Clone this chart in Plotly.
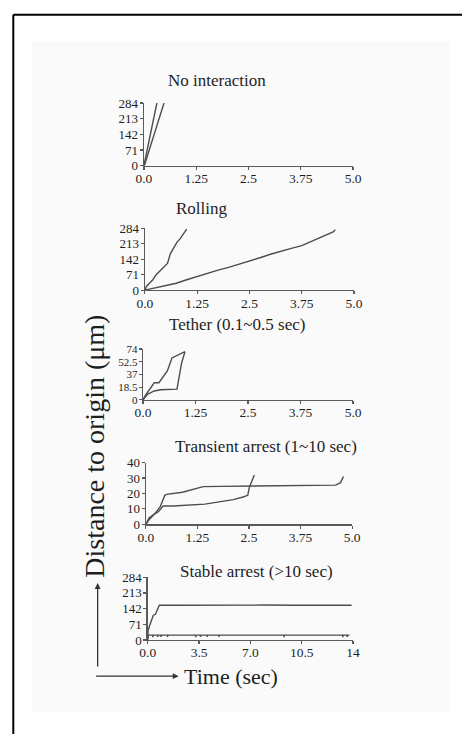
import plotly.graph_objects as go

W, H = 471, 742

# ---------------- data ----------------
titles = ["No interaction", "Rolling", "Tether (0.1~0.5 sec)",
          "Transient arrest (1~10 sec)", "Stable arrest (>10 sec)"]

# No interaction
ni_t1 = [0.0, 0.31]
ni_d1 = [0, 284]
ni_t2 = [0.01, 0.48]
ni_d2 = [0, 284]

# Rolling
ro_t1 = [0, 0.04, 0.115, 0.19, 0.27, 0.35, 0.42, 0.48, 0.54, 0.61, 0.69, 0.77, 0.84, 0.92, 1.0]
ro_d1 = [0, 18, 33, 48, 71, 86, 101, 108, 123, 168, 198, 221, 236, 259, 281]
ro_t2 = [0, 0.25, 0.5, 0.75, 1.0, 1.25, 1.5, 1.75, 2.0, 2.25, 2.5, 2.75, 3.0,
         3.25, 3.5, 3.75, 4.0, 4.25, 4.5, 4.55]
ro_d2 = [0, 10, 20, 32, 48, 63, 80, 92, 105, 119, 134, 149, 165, 180, 192,
         205, 225, 245, 268, 278]

# Tether
te_t1 = [0, 0.077, 0.19, 0.27, 0.38, 0.46, 0.58, 0.69, 0.84, 1.0]
te_d1 = [0, 8.5, 18, 25, 25, 32, 42, 61, 65.5, 70]
te_t2 = [0, 0.115, 0.27, 0.42, 0.81, 0.84, 0.92, 1.0]
te_d2 = [0, 8.5, 13, 14.7, 15.6, 25, 53.6, 70]

# Transient arrest
tr_t1 = [0, 0.077, 0.23, 0.35, 0.46, 0.5, 0.89, 1.04, 1.2, 1.39, 1.82, 2.59,
         3.36, 4.06, 4.6, 4.72, 4.79]
tr_d1 = [0, 3, 7.3, 11.5, 18.8, 19.4, 20.8, 21.9, 22.9, 24.4, 24.6, 24.8,
         25.0, 25.4, 25.4, 27, 31]
tr_t2 = [0, 0.077, 0.19, 0.31, 0.42, 0.66, 1.43, 1.82, 2.12, 2.36, 2.47, 2.51,
         2.59, 2.63]
tr_d2 = [0, 4.2, 6.3, 8.3, 11.9, 11.9, 13.1, 14.6, 16, 17.7, 18.8, 24, 30.2, 31.9]

# Stable arrest
sa_t1 = [0, 0.02, 0.1, 0.23, 0.38, 0.52, 0.65, 0.79, 2.0, 4.0, 6.0, 8.0, 10.0,
         12.0, 13.9]
sa_d1 = [0, 41, 60, 86, 112, 116, 138, 157, 157, 158, 157, 158, 157, 157, 157]
sa_t2 = [0, 0.05, 0.32, 0.34, 0.36, 0.66, 0.68, 0.70, 0.88, 0.90, 0.92, 1.33,
         1.35, 1.37, 3.25, 3.27, 3.29, 3.58, 3.60, 3.62, 4.04, 4.06, 4.08,
         4.83, 4.85, 4.87, 9.28, 9.30, 9.32, 13.28, 13.30, 13.32, 13.58,
         13.60, 13.62, 13.75]
sa_d2 = [4, 22, 22, 13, 22, 22, 14, 22, 22, 14, 22, 22, 14, 22, 22, 13, 22,
         22, 14, 22, 22, 14, 22, 22, 14, 22, 22, 13, 22, 22, 13, 22, 22, 14,
         22, 22]

# ticks
xt5_vals = [0, 1.25, 2.5, 3.75, 5.0]
xt5_text = ["0.0", "1.25", "2.5", "3.75", "5.0"]
xt14_vals = [0, 3.5, 7.0, 10.5, 14]
xt14_text = ["0.0", "3.5", "7.0", "10.5", "14"]
yt284_vals = [0, 71, 142, 213, 284]
yt284_text = ["0", "71", "142", "213", "284"]
yt74_vals = [0, 18.5, 37, 55.5, 74]
yt74_text = ["0", "18.5", "37", "52.5", "74"]
yt40_vals = [0, 10, 20, 30, 40]
yt40_text = ["0", "10", "20", "30", "40"]

series = [
    [(ni_t1, ni_d1), (ni_t2, ni_d2)],
    [(ro_t1, ro_d1), (ro_t2, ro_d2)],
    [(te_t1, te_d1), (te_t2, te_d2)],
    [(tr_t1, tr_d1), (tr_t2, tr_d2)],
    [(sa_t1, sa_d1), (sa_t2, sa_d2)],
]
xticks = [(xt5_vals, xt5_text)] * 4 + [(xt14_vals, xt14_text)]
yticks = [(yt284_vals, yt284_text), (yt284_vals, yt284_text),
          (yt74_vals, yt74_text), (yt40_vals, yt40_text),
          (yt284_vals, yt284_text)]
xranges = [[0, 5]] * 4 + [[0, 14]]
yranges = [[0, 284], [0, 284], [0, 74], [0, 40], [0, 284]]
ytick_sizes = [13, 13, 11, 13, 13]

# ---------------- layout (pixel boxes: left, right, bottom, top) ----------------
boxes = [(141, 358, 162, 98), (142, 359, 289, 226), (140, 358, 401, 349),
         (143, 357, 528, 465), (145, 358, 646, 582)]
title_pos = [(217, 75), (201, 206), (238, 324), (268, 449), (258, 576)]

FONT = "Liberation Serif"
LINE = "#4d4d4d"
AX = "#5a5a5a"
TXT = "#1e1e1e"


def px(x):
    return x / W


def py(y):
    return 1 - y / H


fig = go.Figure()
layout = dict(width=W, height=H, margin=dict(l=0, r=0, t=0, b=0),
              paper_bgcolor="white", plot_bgcolor="rgba(0,0,0,0)",
              showlegend=False, annotations=[], shapes=[])

for i in range(5):
    n = "" if i == 0 else str(i + 1)
    for (t, d) in series[i]:
        fig.add_trace(go.Scatter(x=t, y=d, mode="lines", xaxis="x" + n, yaxis="y" + n,
                                 line=dict(color=LINE, width=1.4), hoverinfo="skip"))
    l, r, b, tp = boxes[i]
    common = dict(showline=True, linecolor=AX, linewidth=1.3, ticks="outside",
                  ticklen=3, tickcolor=AX, tickwidth=1.2, showgrid=False,
                  zeroline=False, tickmode="array")
    layout["xaxis" + n] = dict(domain=[px(l), px(r)], range=xranges[i],
                               anchor="y" + n, tickvals=xticks[i][0],
                               ticktext=xticks[i][1], ticklabelstandoff=-3,
                               tickfont=dict(family=FONT, size=13.5, color=TXT),
                               **common)
    layout["yaxis" + n] = dict(domain=[py(b), py(tp)], range=yranges[i],
                               anchor="x" + n, tickvals=yticks[i][0],
                               ticktext=yticks[i][1], ticklabelstandoff=-1,
                               tickfont=dict(family=FONT, size=ytick_sizes[i], color=TXT),
                               **common)
    tx, ty = title_pos[i]
    layout["annotations"].append(dict(text=titles[i], x=px(tx), y=py(ty),
                                      xref="paper", yref="paper", showarrow=False,
                                      xanchor="center", yanchor="middle",
                                      font=dict(family=FONT, size=17, color=TXT)))

# y label
layout["annotations"].append(dict(text="Distance to origin (μm)", x=px(90), y=py(448),
                                  xref="paper", yref="paper", showarrow=False,
                                  textangle=-90, xanchor="center", yanchor="middle",
                                  font=dict(family=FONT, size=28, color=TXT)))
# x label
layout["annotations"].append(dict(text="Time (sec)", x=px(180), y=py(683),
                                  xref="paper", yref="paper", showarrow=False,
                                  xanchor="left", yanchor="middle",
                                  font=dict(family=FONT, size=22, color=TXT)))
# arrows
layout["annotations"].append(dict(text="", x=px(93), y=py(588), xref="paper", yref="paper",
                                  showarrow=True, ax=0, ay=85, arrowhead=2, arrowsize=0.9,
                                  arrowwidth=1.3, arrowcolor="#333"))
layout["annotations"].append(dict(text="", x=px(177), y=py(683), xref="paper", yref="paper",
                                  showarrow=True, ax=-84, ay=0, arrowhead=2, arrowsize=0.9,
                                  arrowwidth=1.3, arrowcolor="#333"))

# background panel and frame
layout["shapes"].append(dict(type="rect", xref="paper", yref="paper",
                             x0=px(25), x1=px(458), y0=py(720), y1=py(35),
                             fillcolor="#fafafa", line=dict(width=0), layer="below"))
layout["shapes"].append(dict(type="line", xref="paper", yref="paper",
                             x0=px(5.5), x1=1, y0=py(8), y1=py(8),
                             line=dict(color="black", width=2)))
layout["shapes"].append(dict(type="line", xref="paper", yref="paper",
                             x0=px(5.5), x1=px(5.5), y0=0, y1=py(8),
                             line=dict(color="black", width=2)))

fig.update_layout(**layout)
fig.write_html("out.html",
               config={"displayModeBar": False, "staticPlot": True},
               post_script="document.body.style.margin='0';"
                           "document.documentElement.style.overflow='hidden';")
